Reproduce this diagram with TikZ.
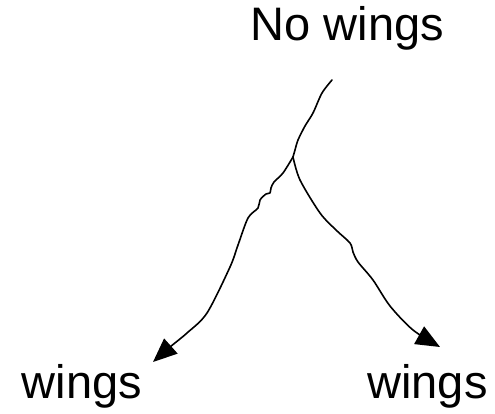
\documentclass[tikz,border=0pt]{standalone}
\usepackage{fontspec}
\setmainfont{Liberation Sans}
\usetikzlibrary{arrows.meta}
\tikzset{
  lbl/.style={anchor=base, inner sep=0pt, font=\fontsize{47}{56}\selectfont},
  wobbly/.style={line width=1.6pt, line join=round, line cap=round},
  arr/.style={wobbly, -{Triangle[length=24pt,width=20pt]}}
}
\begin{document}
\begin{tikzpicture}[x=1pt,y=-1pt]
\useasboundingbox (0,0) rectangle (495,414);
\node[lbl] (top) at (347.5,41) {No wings};
\node[lbl] (left) at (82,398) {wings};
\node[lbl] (right) at (427.5,398) {wings};
\coordinate (s) at (332,80);
\coordinate (b) at (293,157);
\coordinate (lt) at (153,362);
\coordinate (rt) at (440,347);
% stem
\draw[wobbly] plot[smooth, tension=0.5] coordinates {(s) (322,93) (313,113) (305,126) (298,140) (295,150) (b)};
% left branch
\draw[arr] plot[smooth, tension=0.5] coordinates {(b) (283,173) (274,182) (271,188) (270,193) (266,194) (260,200) (258,208) (248,218) (238,245) (230,267) (207,313) (187,333) (170,347) (lt)};
% right branch
\draw[arr] plot[smooth, tension=0.5] coordinates {(b) (300,180) (320,213) (336,230) (350,243) (353,252) (358,262) (373,280) (390,306) (413,330) (rt)};
\end{tikzpicture}
\end{document}
